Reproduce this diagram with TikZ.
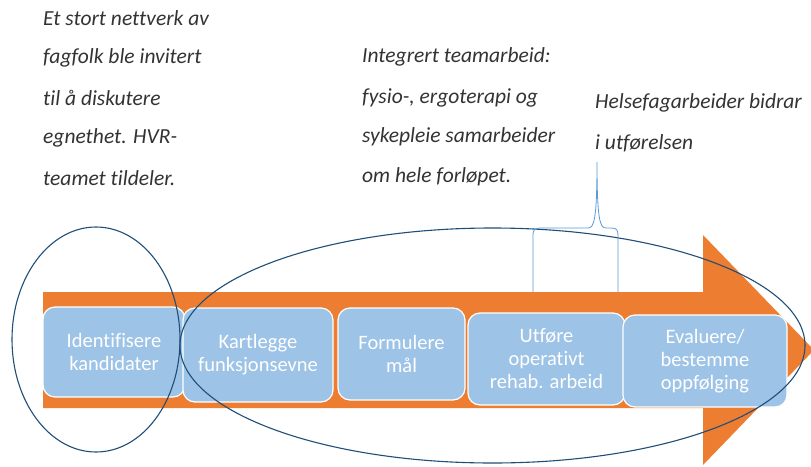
\documentclass[tikz,border=0pt]{standalone}
\usepackage{fontspec}
\setmainfont{Carlito}[Ligatures=NoCommon]
\usetikzlibrary{shapes.geometric}
\definecolor{arroworange}{HTML}{ED7D31}
\definecolor{stepfill}{HTML}{9DC3E6}
\definecolor{ringblue}{HTML}{1F4E79}
\definecolor{bracecol}{HTML}{5B9BD5}
\definecolor{inkgray}{HTML}{333333}
\tikzset{
  stepbox/.style={draw=white, line width=1.2pt, fill=stepfill, rounded corners=12pt,
    text=white, font=\fontsize{20.5}{23}\selectfont, align=center, inner sep=0pt},
  note/.style={anchor=west, text=inkgray, font=\itshape\fontsize{21.5}{40}\selectfont,
    align=left, inner sep=0pt},
  ring/.style={draw=ringblue, line width=1.1pt},
}
\begin{document}
\begin{tikzpicture}[x=1pt,y=-1pt]
\useasboundingbox (0,0) rectangle (811,466);
\clip (0,0) rectangle (811,466);
\fill[white] (0,0) rectangle (811,466);

% process arrow
\fill[arroworange] (43,292) -- (703,292) -- (703,235) -- (814,350) -- (703,465)
  -- (703,408) -- (43,408) -- cycle;

% process steps
\node[stepbox, minimum width=142pt, minimum height=90pt] (s1) at (114,352)
  {Identifisere\\kandidater};
\node[stepbox, minimum width=150pt, minimum height=94pt] (s2) at (258,355)
  {Kartlegge\\funksjonsevne};
\node[stepbox, minimum width=127pt, minimum height=92pt] (s3) at (401.5,354)
  {Formulere\\mål};
\node[stepbox, minimum width=157pt, minimum height=92pt] (s4) at (546.5,359)
  {Utføre\\operativt\\rehab. arbeid};
\node[stepbox, minimum width=164pt, minimum height=92pt] (s5) at (705,361)
  {Evaluere/\\bestemme\\oppfølging};

% grouping rings
\draw[ring] (96,339.5) ellipse [x radius=84, y radius=112.5];
\draw[ring] (492.5,345.5) ellipse [x radius=312.5, y radius=117.5];

% notes
\node[note] (n1) at (43,18) {Et stort nettverk av};
\node[note] (n2) at (43,58) {fagfolk ble invitert};
\node[note] (n3) at (43,98) {til å diskutere};
\node[note] (n4) at (43,138) {egnethet. HVR-};
\node[note] (n5) at (43,178) {teamet tildeler.};

\node[note] (m1) at (362,57) {Integrert teamarbeid:};
\node[note] (m2) at (362,98) {fysio-, ergoterapi og};
\node[note] (m3) at (362,137) {sykepleie samarbeider};
\node[note] (m4) at (362,177) {om hele forløpet.};

\node[note] (r1) at (595,103) {Helsefagarbeider bidrar};
\node[note] (r2) at (595,143) {i utførelsen};

% brace from the note down to the execution step
\coordinate (bl) at (533,292);
\coordinate (br) at (618,292);
\coordinate (bt) at (597,162);
\draw[bracecol, line width=0.8pt] (bl) -- (533,236)
  .. controls (533,229) and (535,228) .. (541,228) -- (588,228)
  .. controls (594,228) and (597,220) .. (bt)
  .. controls (597,220) and (600,228) .. (606,228) -- (611,228)
  .. controls (617,228) and (618,230) .. (618,236) -- (br);
\end{tikzpicture}
\end{document}
